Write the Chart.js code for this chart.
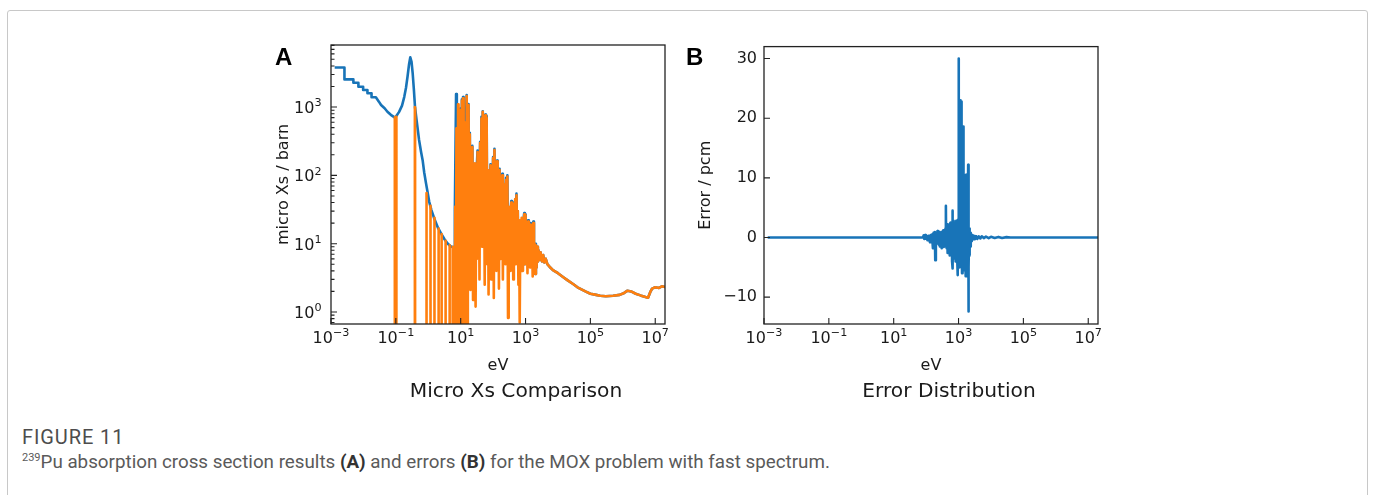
<!DOCTYPE html>
<html><head><meta charset="utf-8">
<script src="https://cdn.jsdelivr.net/npm/chart.js@4.4.0/dist/chart.umd.min.js"></script>
<style>
html,body{margin:0;padding:0;background:#fff;width:1375px;height:495px;overflow:hidden;position:relative;}
#frame{position:absolute;left:7px;top:10px;width:1361px;height:520px;border:1px solid #c8c8c8;border-radius:3px;box-sizing:border-box;}
canvas{position:absolute;}
.panel{position:absolute;font-family:"Liberation Sans",Arial,sans-serif;font-weight:bold;font-size:24px;line-height:24px;color:#000;}
.sub{position:absolute;font-family:"DejaVu Sans",sans-serif;font-size:20.2px;line-height:20px;color:#1a1a1a;white-space:nowrap;transform:translateX(-50%);}
#figlab{position:absolute;left:22px;top:427px;font-family:"Roboto",sans-serif;font-size:20px;line-height:20px;letter-spacing:0.9px;color:#4d4d4d;white-space:nowrap;}
#cap{position:absolute;left:22px;top:452px;font-family:"Roboto",sans-serif;font-size:18.8px;line-height:20px;color:#5a5a5a;white-space:nowrap;}
#cap sup{font-size:11px;vertical-align:7px;line-height:0;}
#cap b{color:#333;}
</style></head>
<body>
<div id="frame"></div>
<canvas id="cA" width="430" height="350" style="left:250px;top:30px;width:430px;height:350px"></canvas>
<canvas id="cB" width="430" height="350" style="left:680px;top:30px;width:430px;height:350px"></canvas>
<div class="panel" style="left:275px;top:45px">A</div>
<div class="panel" style="left:686px;top:45px">B</div>
<div class="sub" style="left:516px;top:380px">Micro Xs Comparison</div>
<div class="sub" style="left:949px;top:380px">Error Distribution</div>
<div id="figlab">FIGURE 11</div>
<div id="cap"><sup>239</sup>Pu absorption cross section results <b>(A)</b> and errors <b>(B)</b> for the MOX problem with fast spectrum.</div>
<script>
// ---------- data (energy in eV) ----------
const xTickValues = [1e-3, 1e-1, 1e1, 1e3, 1e5, 1e7];
const xTickExponents = ['\u22123', '\u22121', '1', '3', '5', '7'];
const xsTickValues = [1, 10, 100, 1000];
const xsTickExponents = ['0', '1', '2', '3'];
const errTickValues = [-10, 0, 10, 20, 30];
const errTickLabels = ['\u221210', '0', '10', '20', '30'];

// reference micro cross section (blue) [E, barn]
const refPoints = [
[1.3e-3,3800],[2.6e-3,3800],[2.6e-3,2540],[4.9e-3,2540],[4.9e-3,2270],[7.0e-3,2270],[7.0e-3,1980],[9.8e-3,1980],[9.8e-3,1780],[1.33e-2,1780],[1.33e-2,1590],[1.78e-2,1590],[1.78e-2,1390],[2.42e-2,1390],
[0.03,1200],[0.035,1070],[0.045,960],[0.055,855],[0.07,770],[0.089,712],[0.1,722],[0.126,850],[0.155,1050],[0.182,1410],[0.205,1900],[0.229,2780],[0.255,4200],[0.279,5350],[0.305,4600],[0.33,3150],[0.36,1800],[0.39,1000],[0.44,620],[0.52,330],[0.6,220],[0.67,167],[0.75,110],[0.85,77],[0.95,57],[1.07,41],[1.25,31],[1.55,23],[2.0,17],[2.5,14],[3.2,11.5],[4.0,10],[5.1,9],[6.3,8.9],
[6.6,30],[7.2,1550],[7.6,200],[7.9,30],[9.6,950],[10.1,40],[10.9,1300],[11.3,40],[11.8,1400],[12.3,40],[15.3,1500],[15.9,30],[17.4,1110],[18.2,30],[19.1,420],[20,12],[22.9,270],[24,10],[33.1,230],[34.7,14],[39.8,310],[41.7,20],[43.7,720],[45.7,10],[47.9,870],[50.1,35],[57.5,780],[60.3,18],[63.1,740],[66.1,8],[83.2,145],[87.1,10],[100,185],[105,8],[110,245],[115,15],[132,165],[138,10],[158,125],[166,8],[191,105],[200,6],[251,92],[263,20],[275,100],[288,8],[363,42],[380,10],[398,41],[417,6],[525,54],[550,12],[575,30],[603,6],[912,28],[955,5],[1000,27],[1047,9],[1202,22],[1259,7],[1445,20],[1514,6],[1738,21],[1820,5],[1995,3.6],[2089,10],[2188,4.5],[2291,9],[2399,5.5],[2512,8],
[2700,5.8],[2900,7.5],[3200,5.5],[3500,6.8],[3800,5.3],[4200,6.0],[4700,5.0],[5500,4.6],[7000,4.1],[1e4,3.7],[1.5e4,3.2],[2e4,2.9],[3e4,2.55],[4e4,2.3],[7e4,2.0],[1e5,1.85],[1.5e5,1.78],[2e5,1.73],[3e5,1.7],[5e5,1.73],[8e5,1.78],[1.1e6,1.9],[1.4e6,2.05],[1.8e6,2.0],[2.5e6,1.85],[3.5e6,1.75],[5e6,1.66],[6e6,1.62],[7e6,1.95],[8e6,2.2],[1e7,2.3],[1.3e7,2.25],[1.6e7,2.38],[2e7,2.32]
];

// calculated micro cross section (orange) [E, barn]; 0.3 = off-scale (zero)
const calcPoints = [
[1.3e-3,0.3],[0.093,0.3],[0.093,712],[0.104,722],[0.104,0.3],
[0.386,0.3],[0.386,1000],[0.392,985],[0.392,0.3],
[0.873,0.3],[0.873,55],[0.89,50],[0.89,0.3],
[1.16,0.3],[1.16,36],[1.18,35],[1.18,0.3],
[1.52,0.3],[1.52,24],[1.57,23],[1.57,0.3],
[2.06,0.3],[2.06,16.6],[2.1,16.3],[2.1,0.3],
[2.55,0.3],[2.55,13.8],[2.6,13.6],[2.6,0.3],
[3.38,0.3],[3.38,11],[3.45,10.9],[3.45,0.3],
[4.5,0.3],[4.5,9.5],[4.6,9.4],[4.6,0.3],
[5.57,0.3],[5.57,9],[5.7,8.9],[5.7,0.3],
[6.5,0.3],[6.8,35],[7.1,0.3],[7.4,490],[7.9,0.3],[8.3,1100],[8.6,0.3],[9.0,60],[9.3,0.3],[9.6,900],[10.1,0.3],[10.5,45],[10.9,1250],[11.3,0.3],[11.8,1340],[12.3,0.3],[12.8,80],[13.3,0.3],[13.8,40],[14.2,600],[14.8,0.3],[15.3,1450],[15.9,0.3],[16.6,35],
[17.4,1070],[18.2,25],[19.1,400],[20.0,2.1],[20.9,180],[21.9,12],[22.9,260],[24.0,1.5],[25.1,90],[26.3,8],[27.5,150],[28.8,1.2],[30.2,60],[31.6,6],[33.1,220],[34.7,14],[36.3,120],[38.0,3],[39.8,300],[41.7,20],[43.7,680],[45.7,9],[47.9,850],[50.1,35],[52.5,200],[55.0,2.5],[57.5,760],[60.3,18],[63.1,700],[66.1,5],[69.2,120],[72.4,1.8],[75.9,55],[79.4,8],[83.2,140],[87.1,3],[91.2,90],[95.5,12],[100,180],[105,1.6],[110,235],[115,15],[120,70],[126,4],[132,160],[138,10],[145,110],[151,2.2],[158,120],[166,6],[174,45],[182,13],[191,100],[200,3],[209,75],[219,9],[229,60],[240,5],[251,86],[263,20],[275,96],[288,0.82],[302,35],[316,7],[331,28],[347,4],[363,40],[380,10],[398,39],[417,3],[437,25],[457,8],[479,45],[501,5],[525,51],[550,12],[575,30],[603,2.5],[631,22],[661,0.7],[692,18],[724,6],[759,24],[794,4],[832,20],[871,8],[912,27],[955,5],[1000,26],[1047,9],[1096,16],[1148,3.7],[1202,21],[1259,7],[1318,14],[1380,4.5],[1445,19],[1514,6],[1585,12],[1660,3.3],[1738,20],[1820,5],[1905,10],[1995,3.6],[2089,9.5],[2188,4.5],[2291,9],[2399,5.5],[2512,8],
[2700,5.8],[2900,7.5],[3200,5.5],[3500,6.8],[3800,5.3],[4200,6.0],[4700,5.0],[5500,4.6],[7000,4.1],[1e4,3.7],[1.5e4,3.2],[2e4,2.9],[3e4,2.55],[4e4,2.3],[7e4,2.0],[1e5,1.85],[1.5e5,1.78],[2e5,1.73],[3e5,1.7],[5e5,1.73],[8e5,1.78],[1.1e6,1.9],[1.4e6,2.05],[1.8e6,2.0],[2.5e6,1.85],[3.5e6,1.75],[5e6,1.66],[6e6,1.62],[7e6,1.95],[8e6,2.2],[1e7,2.3],[1.3e7,2.25],[1.6e7,2.38],[2e7,2.32]
];

// error distribution [E, pcm]
const errPoints = [
[1.3e-3,0],[80,0],[84,0.35],[88,-0.25],[93,0.4],[98,-0.2],[104,0.2],[110,-0.45],[117,0.3],[124,-0.3],[132,-0.8],[138,0.4],[145,-0.6],[152,0.5],[162,-1.8],[170,0.8],[178,-0.5],[186,0.9],[191,-3.8],[200,0.6],[210,-0.7],[224,1.1],[232,-1.0],[240,0.7],[248,-1.2],[257,0.9],[265,-1.5],[275,0.6],[290,-0.9],[302,-1.8],[315,1.0],[328,-0.6],[339,1.2],[350,-1.6],[365,0.9],[380,-0.8],[395,1.5],[407,5.3],[415,-1.5],[425,1.8],[436,-1.8],[448,2.2],[460,-2.6],[475,1.5],[490,2.0],[505,-2.2],[520,1.8],[535,-3.0],[550,2.4],[565,-2.0],[580,2.5],[600,-2.8],[615,1.9],[632,-4.0],[650,4.5],[661,-5.2],[675,2.2],[690,-3.5],[705,2.8],[720,-2.5],[740,1.5],[760,-3.5],[780,2.2],[794,-3.0],[810,2.0],[830,-4.0],[850,2.8],[870,-2.8],[890,2.5],[910,-3.5],[930,1.8],[955,-6.3],[980,3.0],[1000,30],[1015,-4.5],[1030,6],[1050,-2],[1070,8],[1090,-5],[1110,23],[1125,12],[1140,-3],[1160,15],[1180,-4.5],[1200,22.8],[1220,6],[1240,-3.5],[1260,14],[1280,-6],[1300,10],[1320,-4],[1340,5],[1360,-3],[1380,9],[1400,18.6],[1420,-2.5],[1450,7],[1480,-4],[1510,3],[1540,-5.5],[1570,8],[1600,-3],[1640,4],[1680,-6.5],[1700,10.5],[1730,-2],[1760,5],[1800,-6.5],[1830,3],[1860,-4],[1900,2],[1940,-5],[1980,12.2],[2000,-12.4],[2040,2.5],[2080,-5],[2120,1.5],[2170,-3],[2230,0.9],[2300,-1.5],[2380,0.8],[2450,-0.6],[2570,-0.5],[2700,0.4],[2850,-0.3],[3000,0.25],[3200,-0.3],[3500,0.2],[3800,-0.25],[4200,0.2],[4700,-0.15],[5200,0.2],[6000,-0.1],[7000,0.15],[8500,-0.1],[1e4,0.12],[1.3e4,-0.08],[1.7e4,0.1],[2.2e4,-0.08],[3e4,0.06],[4e4,0],[2e7,0]
];

// ---------- rendering ----------
const BLUE = '#1874b8', ORANGE = '#ff7f0e', INK = '#1a1a1a';
const FONT = '"DejaVu Sans", sans-serif';
Chart.defaults.font.family = FONT;
Chart.defaults.color = INK;

function drawPow(ctx, exp, x, y, align) {
  ctx.font = '16px ' + FONT; const wb = ctx.measureText('10').width;
  ctx.font = '11.2px ' + FONT; const we = ctx.measureText(exp).width;
  const left = align === 'center' ? x - (wb + we) / 2 : x - wb - we;
  ctx.font = '16px ' + FONT; ctx.fillText('10', left, y);
  ctx.font = '11.2px ' + FONT; ctx.fillText(exp, left + wb, y - 6.8);
}

const mplAxes = {
  id: 'mplAxes',
  afterDatasetsDraw(chart, args, o) {
    const {ctx, chartArea: a, scales} = chart;
    ctx.save();
    ctx.strokeStyle = '#222';
    ctx.lineWidth = 1.1;
    ctx.beginPath();
    o.xMajor.forEach(v => { const p = scales.x.getPixelForValue(v); ctx.moveTo(p, a.bottom); ctx.lineTo(p, a.bottom - 6); });
    o.yMajor.forEach(v => { const p = scales.y.getPixelForValue(v); ctx.moveTo(a.left, p); ctx.lineTo(a.left + 6, p); });
    (o.yMinor || []).forEach(v => { const p = scales.y.getPixelForValue(v); ctx.moveTo(a.left, p); ctx.lineTo(a.left + 3.5, p); });
    ctx.stroke();
    ctx.lineWidth = 1.3;
    ctx.strokeRect(a.left, a.top, a.right - a.left, a.bottom - a.top);
    // power-of-ten tick labels (mathtext style superscripts)
    ctx.fillStyle = INK;
    ctx.textBaseline = 'alphabetic';
    ctx.textAlign = 'left';
    if (o.xExp) o.xMajor.forEach((v, i) => drawPow(ctx, o.xExp[i], scales.x.getPixelForValue(v), a.bottom + 19, 'center'));
    if (o.yExp) o.yMajor.forEach((v, i) => drawPow(ctx, o.yExp[i], a.left - 9.5, scales.y.getPixelForValue(v) + 6, 'right'));
    ctx.restore();
  }
};

function logMinors(min, max) {
  const out = [];
  for (let d = -2; d <= 4; d++) for (let m = 2; m <= 9; m++) { const v = m * Math.pow(10, d); if (v > min && v < max) out.push(v); }
  return out;
}

function xScale() {
  return {
    type: 'logarithmic', position: 'bottom', min: 1e-3, max: 2e7, bounds: 'data',
    grid: {display: false, drawTicks: false}, border: {display: false},
    afterBuildTicks: s => { s.ticks = xTickValues.map(v => ({value: v})); },
    afterFit: s => { s.height = 56; },
    ticks: {display: false, autoSkip: false, maxRotation: 0, minRotation: 0},
    title: {display: true, text: 'eV', font: {size: 16}, color: INK, padding: {top: 0, bottom: 5}}
  };
}

const line = (data, color, order) => ({data: data.map(p => ({x: p[0], y: p[1]})), showLine: true, borderColor: color, backgroundColor: color, borderWidth: 2.6, pointRadius: 0, pointHoverRadius: 0, order, clip: 0, borderJoinStyle: 'round', fill: false, tension: 0});

const yMinA = 0.667, yMaxA = 8100;
new Chart(document.getElementById('cA'), {
  type: 'scatter',
  data: {datasets: [line(refPoints, BLUE, 2), line(calcPoints, ORANGE, 1)]},
  options: {
    responsive: false, animation: false, devicePixelRatio: 1, events: [],
    layout: {padding: {left: 0, top: 15, right: 15, bottom: 0}},
    plugins: {legend: {display: false}, tooltip: {enabled: false},
      mplAxes: {xMajor: xTickValues, xExp: xTickExponents, yMajor: xsTickValues, yExp: xsTickExponents, yMinor: logMinors(yMinA, yMaxA)}},
    scales: {
      x: xScale(),
      y: {type: 'logarithmic', min: yMinA, max: yMaxA, bounds: 'data',
        grid: {display: false, drawTicks: false}, border: {display: false},
        afterBuildTicks: s => { s.ticks = xsTickValues.map(v => ({value: v})); },
        afterFit: s => { s.width = 81; },
        ticks: {display: false, autoSkip: false},
        title: {display: true, text: 'micro Xs / barn', font: {size: 16}, color: INK, padding: {top: 24, bottom: 0}}}
    }
  },
  plugins: [mplAxes]
});

new Chart(document.getElementById('cB'), {
  type: 'scatter',
  data: {datasets: [line(errPoints, BLUE, 1)]},
  options: {
    responsive: false, animation: false, devicePixelRatio: 1, events: [],
    layout: {padding: {left: 0, top: 15, right: 12, bottom: 0}},
    plugins: {legend: {display: false}, tooltip: {enabled: false},
      mplAxes: {xMajor: xTickValues, xExp: xTickExponents, yMajor: errTickValues}},
    scales: {
      x: xScale(),
      y: {type: 'linear', min: -14.5, max: 32, bounds: 'data',
        grid: {display: false, drawTicks: false}, border: {display: false},
        afterBuildTicks: s => { s.ticks = errTickValues.map(v => ({value: v})); },
        afterFit: s => { s.width = 84; },
        ticks: {autoSkip: false, padding: 7, font: {size: 16}, color: INK, callback: (v, i) => errTickLabels[i]},
        title: {display: true, text: 'Error / pcm', font: {size: 16}, color: INK, padding: {top: 16, bottom: 0}}}
    }
  },
  plugins: [mplAxes]
});
</script>
</body></html>
